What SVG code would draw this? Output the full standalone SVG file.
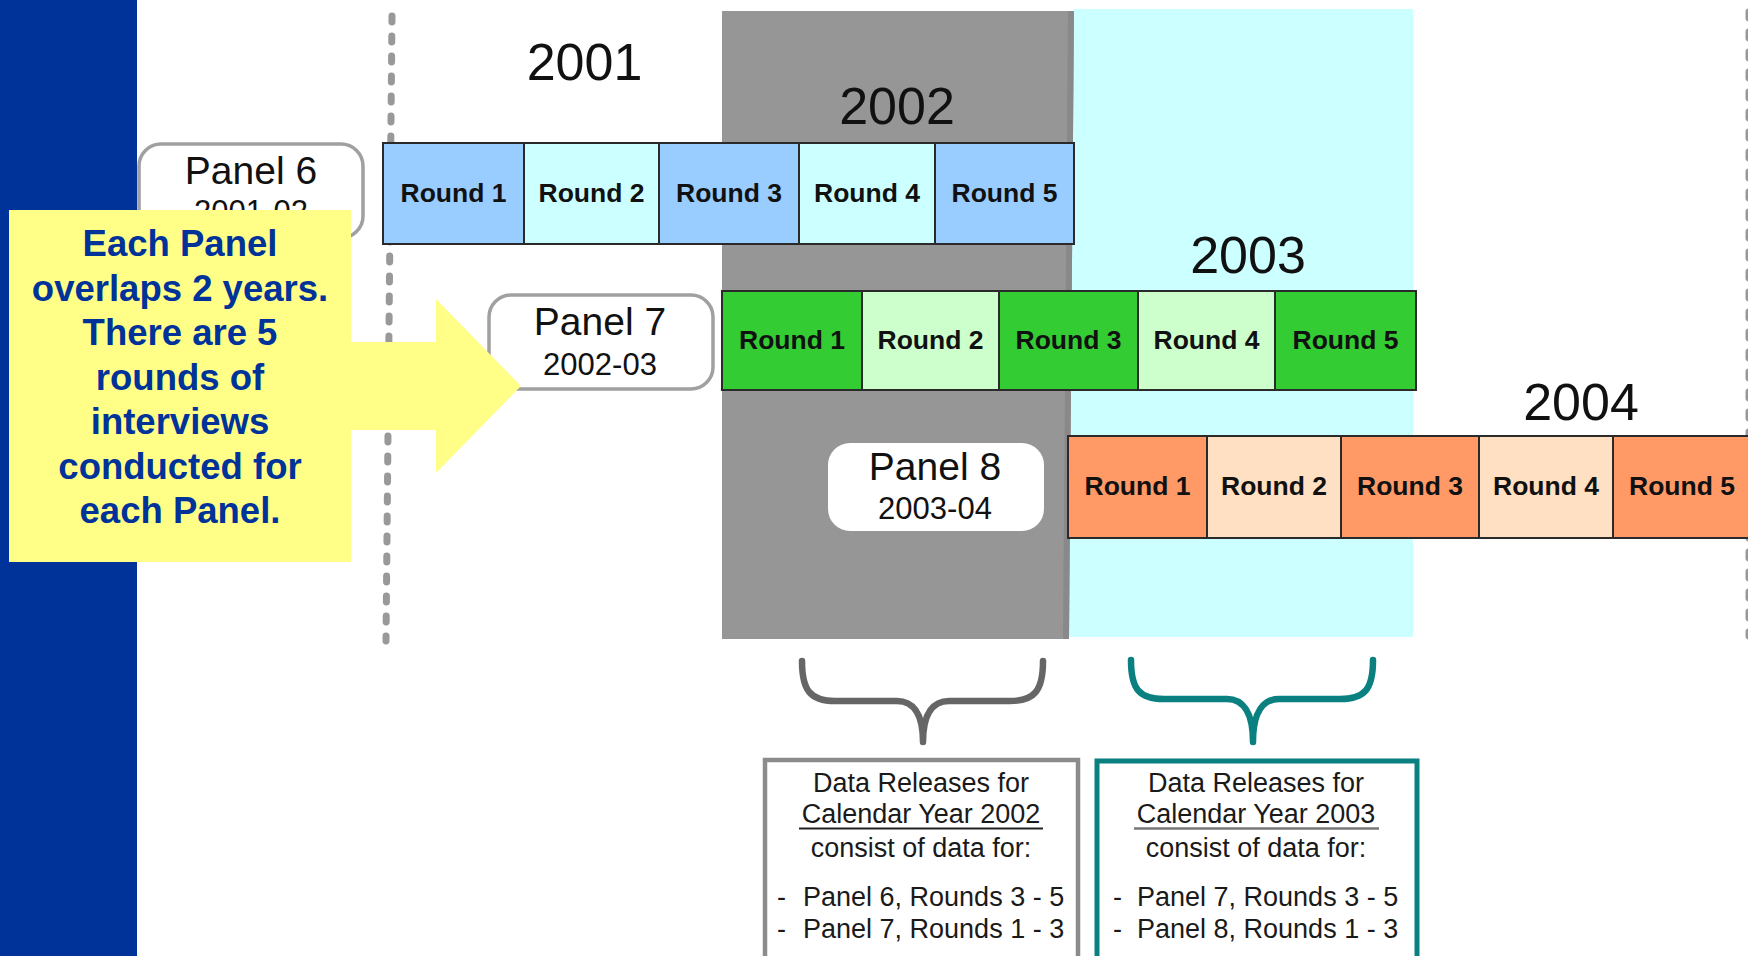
<svg xmlns="http://www.w3.org/2000/svg" width="1748" height="956" viewBox="0 0 1748 956">
<style>
.yr{font-family:"Liberation Sans",Arial,sans-serif;font-size:52px;fill:#111;text-anchor:middle}
.rd{font-family:"Liberation Sans",Arial,sans-serif;font-size:26.5px;font-weight:bold;fill:#111;text-anchor:middle}
.cell{stroke:#2a2a2a;stroke-width:2}
.pn{font-family:"Liberation Sans",Arial,sans-serif;font-size:39px;fill:#111;text-anchor:middle}
.pd{font-family:"Liberation Sans",Arial,sans-serif;font-size:31px;fill:#111;text-anchor:middle}
.pbox{fill:#fff;stroke:#a0a0a0;stroke-width:3.5}
.dash{stroke:#999999;stroke-width:7;stroke-linecap:round;stroke-dasharray:6 14;fill:none}
.co{font-family:"Liberation Sans",Arial,sans-serif;font-size:36.5px;font-weight:bold;fill:#003399;text-anchor:middle}
.bt{font-family:"Liberation Sans",Arial,sans-serif;font-size:27px;fill:#1a1a1a}
.mid{text-anchor:middle}
.brace{fill:none;stroke-width:6.5;stroke-linecap:round;stroke-linejoin:round}
.b1{fill:#99ccff}.b2{fill:#ccffff}.g1{fill:#33cc33}.g2{fill:#ccffcc}.o1{fill:#ff9966}.o2{fill:#ffe0c2}
</style>
<rect width="1748" height="956" fill="#fff"/>
<rect id="sidebar" x="0" y="0" width="137" height="956" fill="#003399"/>

<g id="year-bands">
<polygon points="1074,9 1413,9 1413,637 1069,637" fill="#ccffff"/>
<polygon points="722,11 1074,11 1069,639 722,639" fill="#969696"/>
<polygon points="1068,11 1074,11 1069,639 1063,639" fill="#898989"/>
</g>

<g id="dividers">
<line class="dash" x1="392" y1="16" x2="386" y2="641"/>
<line class="dash" x1="1749" y1="12" x2="1749" y2="636"/>
</g>

<g id="years">
<text class="yr" x="584.5" y="80">2001</text>
<text class="yr" x="897" y="124">2002</text>
<text class="yr" x="1248" y="273">2003</text>
<text class="yr" x="1581" y="420">2004</text>
</g>

<g id="panel6-rounds">
<rect class="cell b1" x="383" y="143" width="141" height="101"/>
<rect class="cell b2" x="524" y="143" width="135" height="101"/>
<rect class="cell b1" x="659" y="143" width="140" height="101"/>
<rect class="cell b2" x="799" y="143" width="136" height="101"/>
<rect class="cell b1" x="935" y="143" width="139" height="101"/>
<text class="rd" x="453.5" y="202">Round 1</text>
<text class="rd" x="591.5" y="202">Round 2</text>
<text class="rd" x="729" y="202">Round 3</text>
<text class="rd" x="867" y="202">Round 4</text>
<text class="rd" x="1004.5" y="202">Round 5</text>
</g>

<g id="panel7-rounds">
<rect class="cell g1" x="722" y="291" width="140" height="99"/>
<rect class="cell g2" x="862" y="291" width="137" height="99"/>
<rect class="cell g1" x="999" y="291" width="139" height="99"/>
<rect class="cell g2" x="1138" y="291" width="137" height="99"/>
<rect class="cell g1" x="1275" y="291" width="141" height="99"/>
<text class="rd" x="792" y="349">Round 1</text>
<text class="rd" x="930.5" y="349">Round 2</text>
<text class="rd" x="1068.5" y="349">Round 3</text>
<text class="rd" x="1206.5" y="349">Round 4</text>
<text class="rd" x="1345.5" y="349">Round 5</text>
</g>

<g id="panel8-rounds">
<rect class="cell o1" x="1068" y="436" width="139" height="102"/>
<rect class="cell o2" x="1207" y="436" width="134" height="102"/>
<rect class="cell o1" x="1341" y="436" width="138" height="102"/>
<rect class="cell o2" x="1479" y="436" width="134" height="102"/>
<rect class="cell o1" x="1613" y="436" width="140" height="102"/>
<text class="rd" x="1137.5" y="495">Round 1</text>
<text class="rd" x="1274" y="495">Round 2</text>
<text class="rd" x="1410" y="495">Round 3</text>
<text class="rd" x="1546" y="495">Round 4</text>
<text class="rd" x="1682" y="495">Round 5</text>
</g>

<g id="panel6">
<rect class="pbox" x="139" y="144" width="224" height="94" rx="22"/>
<text class="pn" x="251" y="184">Panel 6</text>
<text class="pd" x="251" y="222">2001-02</text>
</g>

<g id="panel7">
<rect class="pbox" x="489" y="295" width="224" height="94" rx="22"/>
<text class="pn" x="600" y="335">Panel 7</text>
<text class="pd" x="600" y="375">2002-03</text>
</g>

<g id="panel8">
<rect x="828" y="443" width="216" height="88" rx="22" fill="#fff"/>
<text class="pn" x="935" y="480">Panel 8</text>
<text class="pd" x="935" y="519">2003-04</text>
</g>

<g id="callout">
<path d="M9,210 H351 V342 H436 V299 L521,386 L436,473 V430 H351 V562 H9 Z" fill="#ffff88"/>
<text class="co" x="180" y="256">Each Panel</text>
<text class="co" x="180" y="300.5">overlaps 2 years.</text>
<text class="co" x="180" y="345">There are 5</text>
<text class="co" x="180" y="389.5">rounds of</text>
<text class="co" x="180" y="434">interviews</text>
<text class="co" x="180" y="478.5">conducted for</text>
<text class="co" x="180" y="523">each Panel.</text>
</g>

<g id="connectors">
<path class="brace" stroke="#666666" d="M802,661 C802,690 810,701 835,701 L897,701 C912,701 923,712 923,742 M1043,661 C1043,690 1035,701 1010,701 L949,701 C934,701 923,712 923,742"/>
<path class="brace" stroke="#0a8080" d="M1131,660 C1131,689 1139,699 1164,699 L1227,699 C1242,699 1253,711 1253,742 M1373,660 C1373,689 1365,699 1340,699 L1279,699 C1264,699 1253,711 1253,742"/>
</g>

<g id="release-2002">
<rect x="765" y="760" width="313" height="210" fill="#fff" stroke="#8c8c8c" stroke-width="4.5"/>
<text class="bt mid" x="921" y="792">Data Releases for</text>
<text class="bt mid" x="921" y="823">Calendar Year 2002</text>
<line x1="799" y1="828.5" x2="1043" y2="828.5" stroke="#222" stroke-width="2"/>
<text class="bt mid" x="921" y="857">consist of data for:</text>
<text class="bt" x="777" y="906">-</text>
<text class="bt" x="803" y="906">Panel 6, Rounds 3 - 5</text>
<text class="bt" x="777" y="938">-</text>
<text class="bt" x="803" y="938">Panel 7, Rounds 1 - 3</text>
</g>

<g id="release-2003">
<rect x="1097" y="761" width="320" height="210" fill="#fff" stroke="#0a8080" stroke-width="5"/>
<text class="bt mid" x="1256" y="792">Data Releases for</text>
<text class="bt mid" x="1256" y="823">Calendar Year 2003</text>
<line x1="1134" y1="828.5" x2="1379" y2="828.5" stroke="#777" stroke-width="2.5"/>
<text class="bt mid" x="1256" y="857">consist of data for:</text>
<text class="bt" x="1113" y="906">-</text>
<text class="bt" x="1137" y="906">Panel 7, Rounds 3 - 5</text>
<text class="bt" x="1113" y="938">-</text>
<text class="bt" x="1137" y="938">Panel 8, Rounds 1 - 3</text>
</g>
</svg>
